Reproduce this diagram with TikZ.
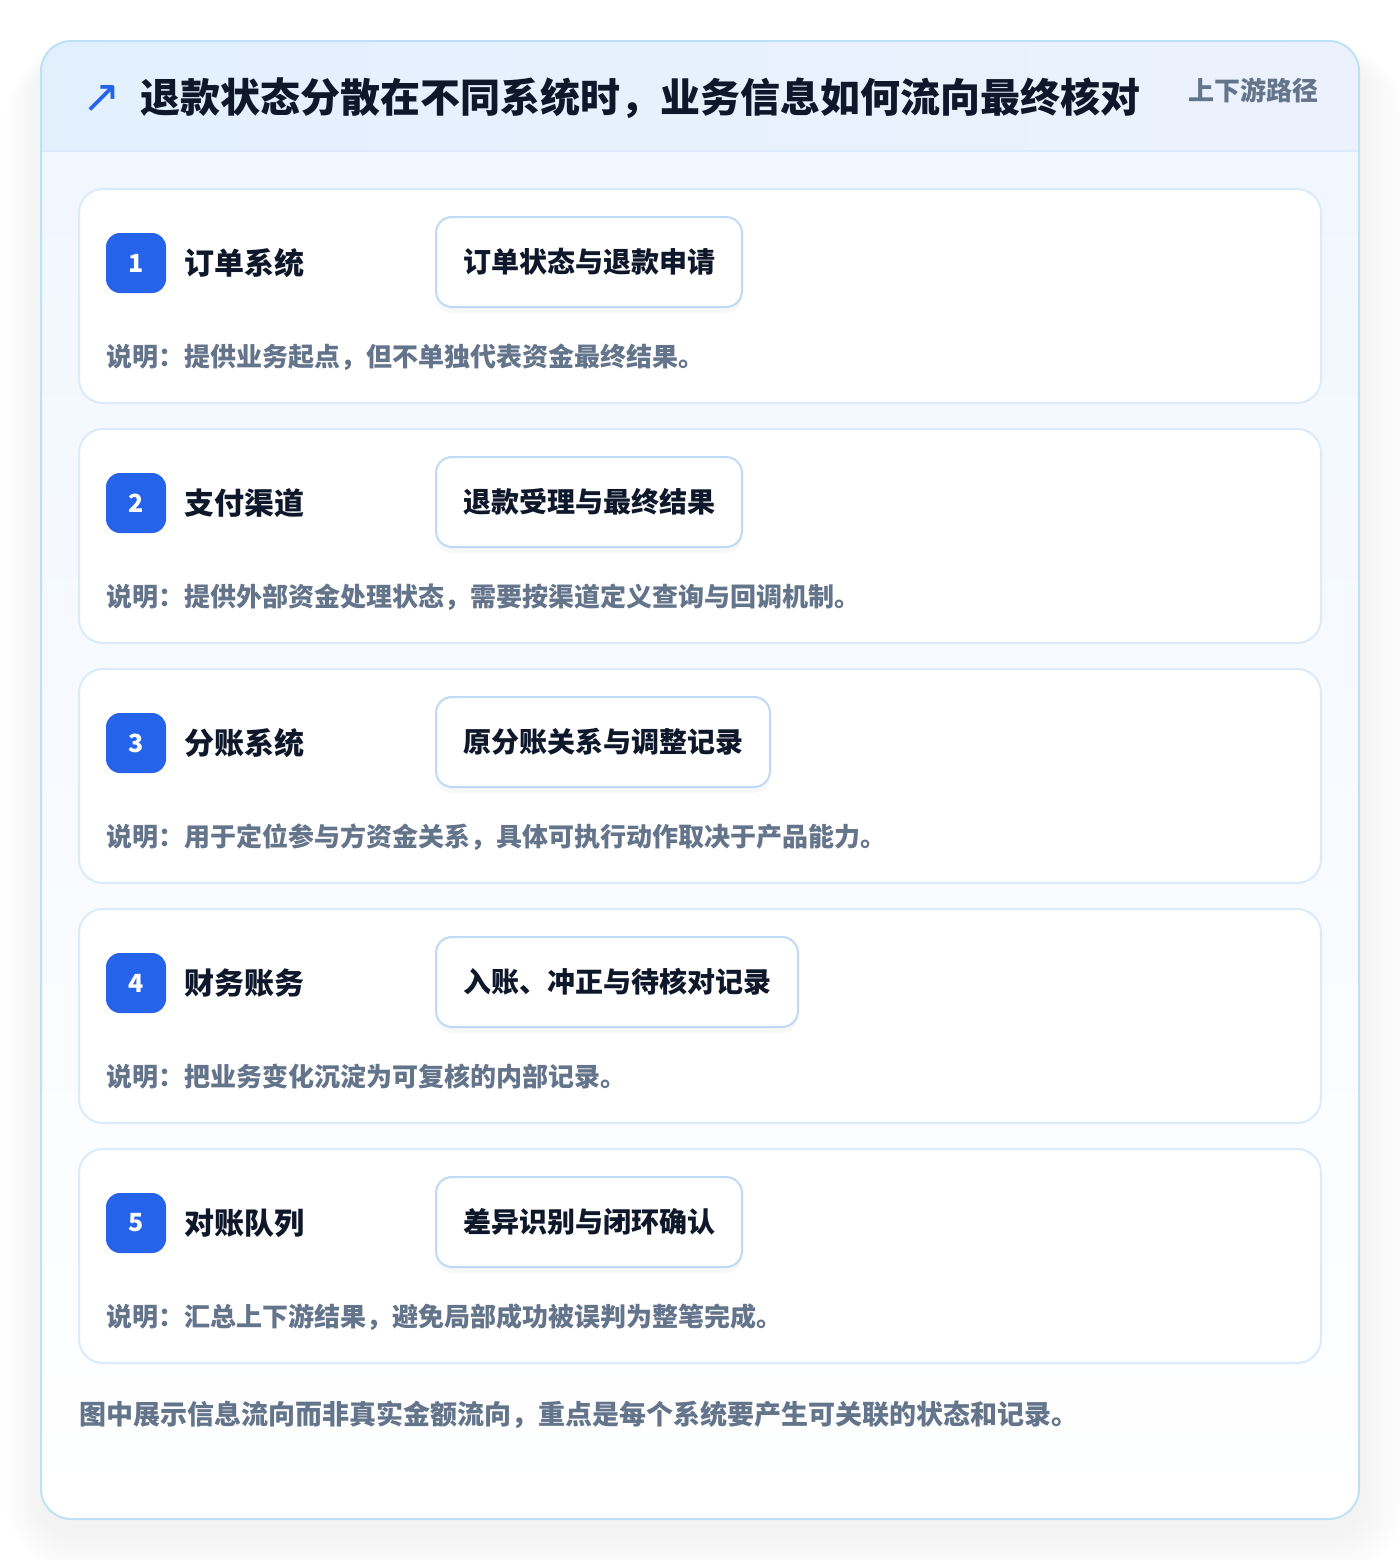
\documentclass[tikz,border=0pt]{standalone}
\usepackage{fontspec}
\setmainfont{Noto Sans CJK SC}
\newfontfamily\symfont{DejaVu Sans}
\usepackage{xcolor}
\definecolor{brand}{HTML}{2563EB}
\definecolor{ink}{HTML}{0F172A}
\definecolor{muted}{HTML}{64748B}
\definecolor{frame}{HTML}{BDE2F7}
\definecolor{cardline}{HTML}{DCEAFB}
\definecolor{tagline}{HTML}{BFD9F6}
\definecolor{headL}{HTML}{E2F0FE}
\definecolor{headR}{HTML}{ECF2FD}
\definecolor{bodytop}{HTML}{F1F7FF}
\usetikzlibrary{positioning,shadows}
\tikzset{
    x=0.5pt,y=-0.5pt,
    card/.style ={draw=cardline, fill=white, line width=1pt, rounded corners=12pt,
                  minimum width=621pt, minimum height=107pt, inner sep=0pt},
    badge/.style={fill=brand, text=white, rounded corners=7pt, minimum size=30pt,
                  inner sep=0pt, font=\bfseries\fontsize{12.5}{14}\selectfont},
    sysname/.style={text=ink, inner sep=0pt, font=\bfseries\fontsize{15}{18}\selectfont},
    tag/.style ={draw=tagline, fill=white, line width=1pt, rounded corners=8pt,
                 minimum height=45pt, inner xsep=13.5pt, text=ink,
                 font=\bfseries\fontsize{14}{17}\selectfont,
                 drop shadow={opacity=0.05, shadow xshift=0pt, shadow yshift=-3pt}},
    desc/.style ={text=muted, inner sep=0pt, font=\bfseries\fontsize{13}{15}\selectfont}
}
\begin{document}
\begin{tikzpicture}
    \useasboundingbox (0,0) rectangle (1400,1560);
    % soft shadow of the outer frame
    \foreach \i in {1,...,12}
      \fill[black, opacity=0.005, rounded corners=15pt+2*\i pt]
        (41-3*\i,41-\i+16) rectangle (1359+4*\i,1519+4*\i+10);
    % outer frame
    \fill[white, rounded corners=15pt] (41,41) rectangle (1359,1519);
    \begin{scope}
      \clip[rounded corners=15pt] (41,41) rectangle (1359,1519);
      \shade[top color=bodytop, bottom color=white] (41,151) rectangle (1359,1519);
      \shade[left color=headL, right color=headR] (41,41) rectangle (1359,151);
    \end{scope}
    \draw[cardline, line width=1pt] (41,151) -- (1359,151);
    \draw[frame, line width=1pt, rounded corners=15pt] (41,41) rectangle (1359,1519);

    % header
    \node[text=brand, inner sep=0pt, font=\symfont\fontsize{23}{24}\selectfont] (icon) at (102,99) {↗};
    \node[anchor=west, text=ink, inner sep=0pt, font=\bfseries\fontsize{20}{24}\selectfont] (title) at (140,98)
      {退款状态分散在不同系统时，业务信息如何流向最终核对};
    \node[text=muted, inner sep=0pt, font=\bfseries\fontsize{13}{15}\selectfont] (path) at (1253,90) {上下游路径};

    % 1
    \node[card] (c1) at (700,296) {};
    \node[badge] (b1) at (136,263) {1};
    \node[sysname, right=9pt of b1] (n1) {订单系统};
    \node[tag, anchor=west] (t1) at (435,262) {订单状态与退款申请};
    \node[desc, anchor=west] (d1) at (106,357) {说明：提供业务起点，但不单独代表资金最终结果。};

    % 2
    \node[card] (c2) at (700,536) {};
    \node[badge] (b2) at (136,503) {2};
    \node[sysname, right=9pt of b2] (n2) {支付渠道};
    \node[tag, anchor=west] (t2) at (435,502) {退款受理与最终结果};
    \node[desc, anchor=west] (d2) at (106,597) {说明：提供外部资金处理状态，需要按渠道定义查询与回调机制。};

    % 3
    \node[card] (c3) at (700,776) {};
    \node[badge] (b3) at (136,743) {3};
    \node[sysname, right=9pt of b3] (n3) {分账系统};
    \node[tag, anchor=west] (t3) at (435,742) {原分账关系与调整记录};
    \node[desc, anchor=west] (d3) at (106,837) {说明：用于定位参与方资金关系，具体可执行动作取决于产品能力。};

    % 4
    \node[card] (c4) at (700,1016) {};
    \node[badge] (b4) at (136,983) {4};
    \node[sysname, right=9pt of b4] (n4) {财务账务};
    \node[tag, anchor=west] (t4) at (435,982) {入账、冲正与待核对记录};
    \node[desc, anchor=west] (d4) at (106,1077) {说明：把业务变化沉淀为可复核的内部记录。};

    % 5
    \node[card] (c5) at (700,1256) {};
    \node[badge] (b5) at (136,1223) {5};
    \node[sysname, right=9pt of b5] (n5) {对账队列};
    \node[tag, anchor=west] (t5) at (435,1222) {差异识别与闭环确认};
    \node[desc, anchor=west] (d5) at (106,1317) {说明：汇总上下游结果，避免局部成功被误判为整笔完成。};

    % footer
    \node[anchor=west, text=muted, inner sep=0pt, font=\bfseries\fontsize{13.5}{16}\selectfont] (note) at (79,1415)
      {图中展示信息流向而非真实金额流向，重点是每个系统要产生可关联的状态和记录。};
\end{tikzpicture}
\end{document}
